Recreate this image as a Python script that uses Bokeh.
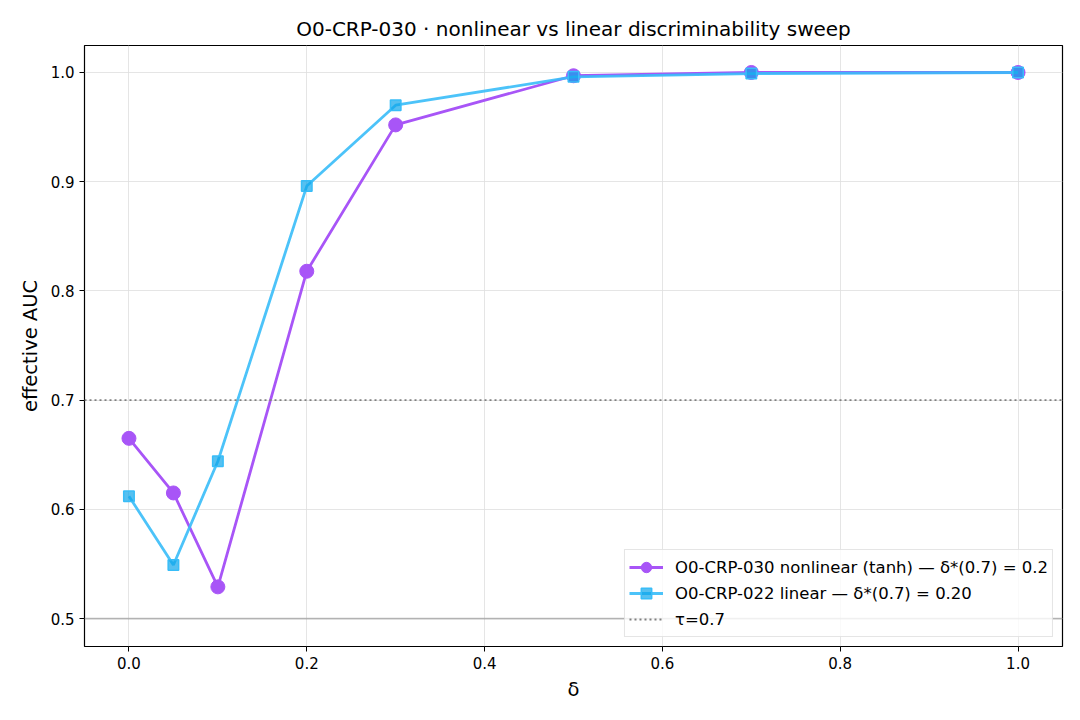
from bokeh.plotting import figure
from bokeh.models import Span, FixedTicker, PrintfTickFormatter, Range1d, Legend, LegendItem
from bokeh.embed import file_html
from bokeh.resources import INLINE

# sweep values
DELTA = [0.0, 0.05, 0.1, 0.2, 0.3, 0.5, 0.7, 1.0]
AUC_NONLINEAR = [0.665, 0.615, 0.529, 0.818, 0.952, 0.997, 1.000, 1.000]
AUC_LINEAR = [0.612, 0.549, 0.644, 0.896, 0.970, 0.996, 0.999, 1.000]
TAU = 0.7
CHANCE = 0.5

LABEL_NONLINEAR = "O0-CRP-030 nonlinear (tanh) — δ*(0.7) = 0.2"
LABEL_LINEAR = "O0-CRP-022 linear — δ*(0.7) = 0.20"
LABEL_TAU = "τ=0.7"

FONT = "DejaVu Sans"
PURPLE = "#a855f7"
CYAN = "#38bdf8"

p = figure(
    width=1064, height=704,
    x_range=Range1d(-0.05, 1.05), y_range=Range1d(0.4744, 1.0247),
    output_backend="svg", toolbar_location=None, tools="",
    title="O0-CRP-030 · nonlinear vs linear discriminability sweep",
    min_border_left=84, min_border_right=2, min_border_top=45, min_border_bottom=58,
)

# title and axes
p.title.align = "center"
p.title.text_font = FONT
p.title.text_font_size = "20px"
p.title.text_font_style = "normal"
p.title.text_color = "black"

p.xaxis.axis_label = "δ"
p.yaxis.axis_label = "effective AUC"
for ax in (p.xaxis, p.yaxis):
    ax.axis_label_text_font = FONT
    ax.axis_label_text_font_size = "19.5px"
    ax.axis_label_text_font_style = "normal"
    ax.axis_label_text_color = "black"
    ax.major_label_text_font = FONT
    ax.major_label_text_font_size = "15px"
    ax.major_label_text_color = "black"
    ax.minor_tick_line_color = None
    ax.major_tick_out = 5
    ax.major_tick_in = 0
    ax.axis_line_color = None
    ax.major_tick_line_color = "black"
    ax.axis_label_standoff = 6

p.xaxis.ticker = FixedTicker(ticks=[0.0, 0.2, 0.4, 0.6, 0.8, 1.0])
p.yaxis.ticker = FixedTicker(ticks=[0.5, 0.6, 0.7, 0.8, 0.9, 1.0])
p.xaxis.formatter = PrintfTickFormatter(format="%.1f")
p.yaxis.formatter = PrintfTickFormatter(format="%.1f")

p.outline_line_color = "black"
p.outline_line_width = 1.2
p.grid.grid_line_color = "#dedede"
p.grid.grid_line_alpha = 0.8

# reference lines
p.add_layout(Span(location=CHANCE, dimension="width", line_color="gray",
                  line_alpha=0.5, line_width=1.8))
p.add_layout(Span(location=TAU, dimension="width", line_color="gray",
                  line_width=1.8, line_dash="2 3"))

# series
nl_line = p.line(DELTA, AUC_NONLINEAR, line_color=PURPLE, line_width=2.8)
nl_pts = p.scatter(DELTA, AUC_NONLINEAR, marker="circle", size=14,
                   fill_color=PURPLE, line_color=PURPLE)
li_line = p.line(DELTA, AUC_LINEAR, line_color=CYAN, line_width=2.8, line_alpha=0.9)
li_pts = p.scatter(DELTA, AUC_LINEAR, marker="square", size=10.5,
                   fill_color="#0ea5e9", fill_alpha=0.7, line_color=CYAN, line_width=1.5)
tau_line = p.line([0, 0], [0, 0], line_color="gray", line_width=1.8,
                  line_dash="2 3", visible=False)

legend = Legend(items=[
    LegendItem(label=LABEL_NONLINEAR, renderers=[nl_line, nl_pts]),
    LegendItem(label=LABEL_LINEAR, renderers=[li_line, li_pts]),
    LegendItem(label=LABEL_TAU, renderers=[tau_line]),
], location="bottom_right")
legend.label_text_font = FONT
legend.label_text_font_size = "16.5px"
legend.label_text_color = "black"
legend.glyph_width = 34
legend.glyph_height = 26
legend.label_height = 20
legend.label_standoff = 12
legend.spacing = 0
legend.padding = 4
legend.margin = 9
legend.border_line_color = "#cccccc"
legend.border_line_width = 1
legend.background_fill_alpha = 0.8
p.add_layout(legend)

open("out.html", "w").write(file_html(p, INLINE))
